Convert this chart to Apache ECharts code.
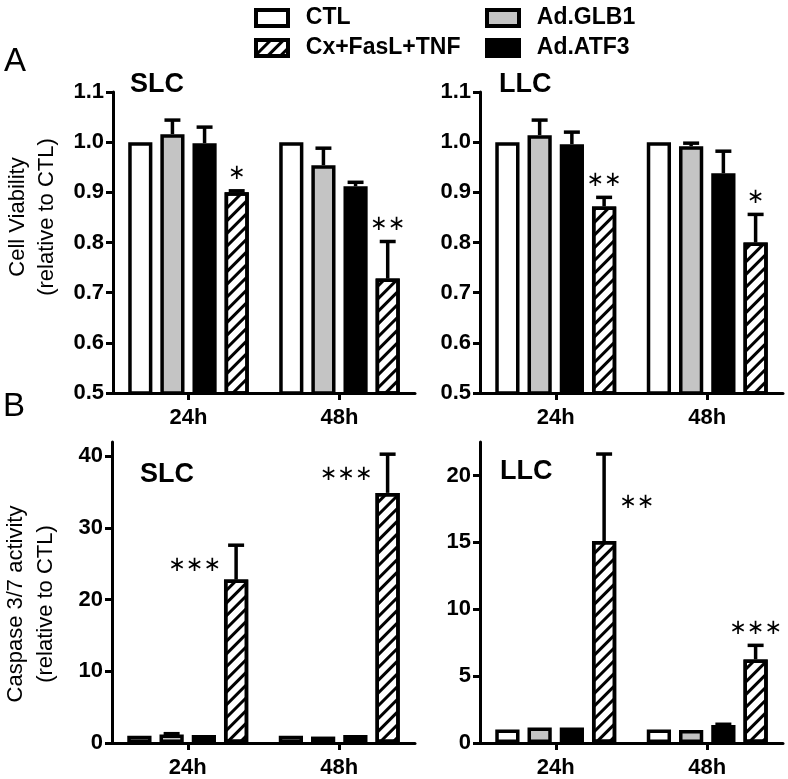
<!DOCTYPE html>
<html>
<head>
<meta charset="utf-8">
<script src="https://cdn.jsdelivr.net/npm/echarts@6/dist/echarts.min.js"></script>
<style>
html,body{margin:0;padding:0;background:#fff;}
#chart{width:788px;height:779px;}
</style>
</head>
<body>
<div id="chart"></div>
<script>
// ---------- DATA ----------
const categories = ['24h', '48h'];
const groupNames = ['CTL', 'Ad.GLB1', 'Ad.ATF3', 'Cx+FasL+TNF'];

// Panel A – cell viability (relative to CTL)
const slcViabMean = { CTL: [1.000, 1.000], GLB1: [1.016, 0.954], ATF3: [0.998, 0.912], CX: [0.900, 0.728] };
const slcViabErr  = { CTL: [0, 0],         GLB1: [0.028, 0.034], ATF3: [0.032, 0.008], CX: [0.003, 0.074] };
const llcViabMean = { CTL: [1.000, 1.000], GLB1: [1.014, 0.992], ATF3: [0.996, 0.938], CX: [0.872, 0.800] };
const llcViabErr  = { CTL: [0, 0],         GLB1: [0.030, 0.006], ATF3: [0.024, 0.044], CX: [0.018, 0.056] };

// Panel B – caspase 3/7 activity (relative to CTL)
const slcCaspMean = { CTL: [1.0, 1.0], GLB1: [1.2, 0.9], ATF3: [1.1, 1.1], CX: [22.8, 34.9] };
const slcCaspErr  = { CTL: [0, 0],     GLB1: [0.1, 0],   ATF3: [0, 0],     CX: [4.8, 5.4] };
const llcCaspMean = { CTL: [1.0, 1.0], GLB1: [1.15, 0.98], ATF3: [1.15, 1.35], CX: [15.1, 6.25] };
const llcCaspErr  = { CTL: [0, 0],     GLB1: [0, 0],       ATF3: [0, 0.05],    CX: [6.5, 1.05] };

// significance marks on the Cx+FasL+TNF bars
const slcViabSig = ['*', '**'];
const llcViabSig = ['**', '*'];
const slcCaspSig = ['***', '***'];
const llcCaspSig = ['**', '***'];
const sigPlacement = [['top', 'top'], ['top', 'top'], ['left', 'left'], ['right', 'top']];

// tick labels
const yTicksViab = [0.5, 0.6, 0.7, 0.8, 0.9, 1.0, 1.1];
const yTicksSlcCasp = [0, 10, 20, 30, 40];
const yTicksLlcCasp = [0, 5, 10, 15, 20];

const panelTitles = ['SLC', 'LLC', 'SLC', 'LLC'];

// ---------- STYLE / LAYOUT ----------
const FONT = 'Liberation Sans, Arial, Helvetica, sans-serif';
const BAR_W = 0.16, BAR_GAP = 0.33;
const keys = ['CTL', 'GLB1', 'ATF3', 'CX'];
const hatch = { symbol: 'rect', symbolSize: 1, dashArrayX: [1, 0], dashArrayY: [3, 6], rotation: -Math.PI / 4, color: '#000' };
const groupStyles = [
  { color: '#ffffff' },
  { color: '#c4c4c4' },
  { color: '#000000' },
  { color: '#ffffff', decal: hatch }
];

const panels = [
  { mean: slcViabMean, err: slcViabErr, sig: slcViabSig, ticks: yTicksViab, min: 0.5, max: 1.1 },
  { mean: llcViabMean, err: llcViabErr, sig: llcViabSig, ticks: yTicksViab, min: 0.5, max: 1.1 },
  { mean: slcCaspMean, err: slcCaspErr, sig: slcCaspSig, ticks: yTicksSlcCasp, min: 0, max: 42 },
  { mean: llcCaspMean, err: llcCaspErr, sig: llcCaspSig, ticks: yTicksLlcCasp, min: 0, max: 22.5 }
];

const grids = [
  { left: 113, top: 92, width: 302, height: 301 },
  { left: 480, top: 92, width: 303, height: 301 },
  { left: 112, top: 442, width: 303, height: 303 },
  { left: 480, top: 442, width: 303, height: 303 }
];

const xAxes = grids.map((g, p) => ({
  type: 'category', gridIndex: p, data: categories,
  axisLine: { show: true, lineStyle: { color: '#000', width: 3 } },
  axisTick: { show: true, alignWithLabel: true, length: 7, lineStyle: { color: '#000', width: 3 } },
  axisLabel: { color: '#000', fontSize: 22, fontWeight: 'bold', fontFamily: FONT, margin: 14 },
  splitLine: { show: false }
}));

const yAxes = panels.map((pn, p) => ({
  type: 'value', gridIndex: p, min: pn.min, max: pn.max,
  axisLine: { show: true, lineStyle: { color: '#000', width: 3 } },
  axisTick: { show: true, length: 7, lineStyle: { color: '#000', width: 3 }, customValues: pn.ticks },
  axisLabel: {
    color: '#000', fontSize: 22, fontWeight: 'bold', fontFamily: FONT, margin: 9,
    customValues: pn.ticks,
    formatter: v => (p < 2 ? Number(v).toFixed(1) : String(v))
  },
  splitLine: { show: false }
}));

const series = [];
panels.forEach((pn, p) => {
  keys.forEach((k, g) => {
    series.push({
      type: 'bar', name: groupNames[g], xAxisIndex: p, yAxisIndex: p,
      data: pn.mean[k],
      barWidth: (BAR_W * 100) + '%', barGap: (BAR_GAP * 100) + '%',
      itemStyle: Object.assign({ borderColor: '#000', borderWidth: 3.5 }, groupStyles[g]),
      emphasis: { disabled: true },
      z: 2
    });
  });
  // error bars
  const errData = [];
  keys.forEach((k, g) => {
    pn.mean[k].forEach((m, c) => errData.push([c, m, pn.err[k][c], g]));
  });
  series.push({
    type: 'custom', xAxisIndex: p, yAxisIndex: p, data: errData, z: 3, silent: true,
    encode: { x: 0, y: 1 },
    renderItem: function (params, api) {
      const c = api.value(0), m = api.value(1), e = api.value(2), g = api.value(3);
      if (!(e > 0)) return;
      const band = api.size([1, 0])[0];
      const bw = band * BAR_W, step = bw * (1 + BAR_GAP);
      const base = api.coord([c, m]);
      const top = api.coord([c, m + e]);
      const x = base[0] + (g - 1.5) * step;
      const half = bw * 0.33;
      return {
        type: 'group', children: [
          { type: 'line', shape: { x1: x, y1: base[1], x2: x, y2: top[1] }, style: { stroke: '#000', lineWidth: 3.5 } },
          { type: 'line', shape: { x1: x - half, y1: top[1], x2: x + half, y2: top[1] }, style: { stroke: '#000', lineWidth: 3.5 } }
        ]
      };
    }
  });
  // significance marks
  const sigData = pn.sig.map((s, c) => [c, pn.mean.CX[c] + pn.err.CX[c]]);
  series.push({
    type: 'custom', xAxisIndex: p, yAxisIndex: p, data: sigData, z: 4, silent: true,
    encode: { x: 0, y: 1 },
    renderItem: function (params, api) {
      const c = api.value(0), v = api.value(1);
      const band = api.size([1, 0])[0];
      const bw = band * BAR_W, step = bw * (1 + BAR_GAP);
      const pt = api.coord([c, v]);
      const x = pt[0] + 1.5 * step;
      const place = sigPlacement[p][params.dataIndex];
      const txt = pn.sig[params.dataIndex].replace(/\*/g, '\u2217');
      let tx = x, ty = pt[1] - 17, align = 'center';
      if (place === 'left') { tx = x - bw / 2 - 3; ty = pt[1] + 20; align = 'right'; }
      if (place === 'right') { tx = x + bw / 2 + 3; ty = pt[1] + 49; align = 'left'; }
      return {
        type: 'text', x: tx, y: ty,
        style: { text: txt, fill: '#000', font: '21px DejaVu Sans', align: align, verticalAlign: 'middle' }
      };
    }
  });
});

const titlePos = [[130, 85], [499, 85], [140, 475], [500, 472]];
const graphics = panelTitles.map((t, i) => ({
  type: 'text', x: titlePos[i][0], y: titlePos[i][1],
  style: { text: t, fill: '#000', font: 'bold 27px ' + FONT, textAlign: 'left', textVerticalAlign: 'middle' }
}));
graphics.push(
  { type: 'text', x: 4, y: 62, style: { text: 'A', fill: '#000', font: '33px ' + FONT, textAlign: 'left', textVerticalAlign: 'middle' } },
  { type: 'text', x: 3, y: 407, style: { text: 'B', fill: '#000', font: '33px ' + FONT, textAlign: 'left', textVerticalAlign: 'middle' } },
  { type: 'text', x: 32, y: 217, rotation: Math.PI / 2,
    style: { text: 'Cell Viability\n(relative to CTL)', fill: '#000', font: '22px ' + FONT, lineHeight: 29, textAlign: 'center', textVerticalAlign: 'middle' } },
  { type: 'text', x: 31, y: 604, rotation: Math.PI / 2,
    style: { text: 'Caspase 3/7 activity\n(relative to CTL)', fill: '#000', font: '22px ' + FONT, lineHeight: 30, textAlign: 'center', textVerticalAlign: 'middle' } }
);

const legendBase = {
  orient: 'vertical', top: 1, itemWidth: 32, itemHeight: 16, itemGap: 6,
  selectedMode: false, icon: 'rect',
  itemStyle: { borderColor: '#000', borderWidth: 4 },
  textStyle: { fontSize: 23, fontWeight: 'bold', fontFamily: FONT, color: '#000', lineHeight: 24 },
  formatter: n => '  ' + n
};

const option = {
  animation: false,
  backgroundColor: '#fff',
  grid: grids,
  xAxis: xAxes,
  yAxis: yAxes,
  legend: [
    Object.assign({}, legendBase, { left: 249, data: [groupNames[0], groupNames[3]] }),
    Object.assign({}, legendBase, { left: 480, data: [groupNames[1], groupNames[2]] })
  ],
  graphic: graphics,
  series: series
};

const chart = echarts.init(document.getElementById('chart'), null, { renderer: 'canvas' });
chart.setOption(option);
</script>
</body>
</html>
